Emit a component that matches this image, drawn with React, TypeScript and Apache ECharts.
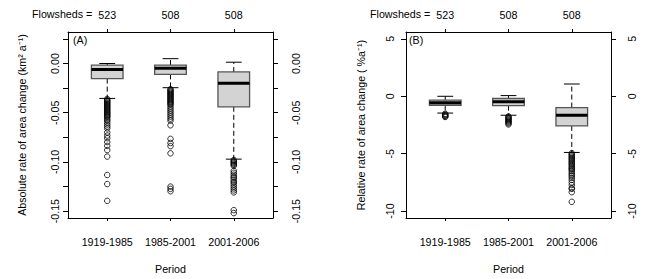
import React, { useEffect, useRef } from 'react';
import * as echarts from 'echarts';

const categories = ['1919-1985', '1985-2001', '2001-2006'];
const flowsheds = [523, 508, 508];

// [lower whisker, Q1, median, Q3, upper whisker]
const absStats = [
  [-0.0355, -0.0154, -0.0062, -0.0017, 0.0],
  [-0.0246, -0.0111, -0.0049, -0.0017, 0.0049],
  [-0.0972, -0.044, -0.02, -0.0086, 0.0013],
];
const absOutliers1919 = [
  -0.036, -0.037, -0.038, -0.039, -0.04, -0.041, -0.042, -0.043, -0.044, -0.045, -0.046, -0.047,
  -0.048, -0.049, -0.05, -0.051, -0.052, -0.053, -0.054, -0.055, -0.057, -0.058, -0.06, -0.062,
  -0.064, -0.066, -0.07, -0.0732, -0.0759, -0.0798, -0.0837, -0.088, -0.0946, -0.1133, -0.1225, -0.1396,
];
const absOutliers1985 = [
  -0.026, -0.027, -0.028, -0.029, -0.03, -0.031, -0.032, -0.033, -0.034, -0.035, -0.036, -0.037,
  -0.038, -0.039, -0.04, -0.041, -0.042, -0.044, -0.046, -0.048, -0.05, -0.052, -0.054, -0.056,
  -0.058, -0.0628, -0.0766, -0.0808, -0.084, -0.0913, -0.1251, -0.1274, -0.1298,
];
const absOutliers2001 = [
  -0.098, -0.099, -0.1, -0.101, -0.102, -0.103, -0.104, -0.109, -0.111, -0.113, -0.115, -0.116,
  -0.118, -0.12, -0.121, -0.123, -0.125, -0.127, -0.129, -0.131, -0.149, -0.152,
];

const relStats = [
  [-1.46, -0.78, -0.56, -0.34, 0.0],
  [-1.65, -0.81, -0.47, -0.19, 0.06],
  [-4.89, -2.58, -1.65, -0.98, 1.07],
];
const relOutliers1919 = [-1.52, -1.58, -1.64, -1.7, -1.76, -1.8];
const relOutliers1985 = [-1.75, -1.82, -1.9, -1.98, -2.05, -2.12, -2.2, -2.28, -2.36, -2.45];
const relOutliers2001 = [
  -4.95, -5.05, -5.15, -5.25, -5.35, -5.45, -5.55, -5.65, -5.76, -5.86, -5.96, -6.08, -6.19,
  -6.3, -6.38, -6.5, -6.66, -6.8, -6.94, -7.1, -7.28, -7.5, -7.73, -8.0, -8.06, -8.35, -9.19,
];

const absTickValues = [-0.15, -0.125, -0.1, -0.075, -0.05, -0.025, 0, 0.025];
const absLabelValues = [-0.15, -0.1, -0.05, 0];
const relTickValues = [-10, -5, 0, 5];
const relLabelValues = [-10, -5, 0, 5];
const catPositions = [1, 2, 3];

const FONT = 'Liberation Sans, Arial, sans-serif';
const FS = 10.7;

function boxRender(params: any, api: any) {
  const x = api.value(0);
  const low = api.value(1);
  const q1 = api.value(2);
  const med = api.value(3);
  const q3 = api.value(4);
  const high = api.value(5);
  const hw = 0.25;
  const cw = 0.125;
  const tl = api.coord([x - hw, q3]);
  const br = api.coord([x + hw, q1]);
  const c = (xx: number, yy: number) => api.coord([xx, yy]);
  const line = (a: number[], b: number[], style: any) => ({
    type: 'line',
    shape: { x1: a[0], y1: a[1], x2: b[0], y2: b[1] },
    style,
  });
  const dashed = { stroke: '#000', lineWidth: 1, lineDash: [5, 3] };
  const solid = { stroke: '#000', lineWidth: 1 };
  return {
    type: 'group',
    children: [
      line(c(x, q3), c(x, high), dashed),
      line(c(x, q1), c(x, low), dashed),
      line(c(x - cw, high), c(x + cw, high), solid),
      line(c(x - cw, low), c(x + cw, low), solid),
      {
        type: 'rect',
        shape: { x: tl[0], y: tl[1], width: br[0] - tl[0], height: br[1] - tl[1] },
        style: { fill: '#d3d3d3', stroke: '#555', lineWidth: 1.3 },
      },
      line(c(x - hw, med), c(x + hw, med), { stroke: '#000', lineWidth: 3 }),
    ],
  };
}

export default function App() {
  const ref = useRef<HTMLDivElement>(null);
  useEffect(() => {
    if (!ref.current) return;
    const chart = echarts.init(ref.current, null, { renderer: 'svg' });
    const text = { fontFamily: FONT, fontSize: FS, color: '#000' };
    const axisLine = { show: true, onZero: false, lineStyle: { color: '#000', width: 1 } };

    const xBottom = (gridIndex: number) => ({
      type: 'value',
      gridIndex,
      position: 'bottom',
      min: 0.38,
      max: 3.62,
      axisLine,
      splitLine: { show: false },
      axisTick: { show: true, length: 3, customValues: catPositions, lineStyle: { color: '#000' } },
      axisLabel: {
        show: true,
        customValues: catPositions,
        margin: 18,
        ...text,
        formatter: (v: number) => categories[Math.round(v) - 1] ?? '',
      },
      name: 'Period',
      nameLocation: 'middle',
      nameGap: 45,
      nameTextStyle: text,
    });
    const xTop = (gridIndex: number) => ({
      type: 'value',
      gridIndex,
      position: 'top',
      min: 0.38,
      max: 3.62,
      axisLine,
      splitLine: { show: false },
      axisTick: { show: true, length: 3, customValues: catPositions, lineStyle: { color: '#000' } },
      axisLabel: {
        show: true,
        customValues: catPositions,
        margin: 12,
        ...text,
        formatter: (v: number) => String(flowsheds[Math.round(v) - 1] ?? ''),
      },
    });
    const yAxis = (
      gridIndex: number,
      position: string,
      min: number,
      max: number,
      ticks: number[],
      labels: number[],
      margin: number,
      fmt: (v: number) => string,
      name?: string,
      nameGap?: number
    ) => ({
      type: 'value',
      gridIndex,
      position,
      min,
      max,
      axisLine,
      splitLine: { show: false },
      axisTick: { show: true, length: 5, customValues: ticks, lineStyle: { color: '#000' } },
      axisLabel: { show: true, customValues: labels, rotate: 90, margin, ...text, formatter: fmt },
      name: name ?? '',
      nameLocation: 'middle',
      nameGap: nameGap ?? 0,
      nameMoveOverlap: false,
      nameTextStyle: text,
    });

    const absFmt = (v: number) => v.toFixed(2);
    const relFmt = (v: number) => String(Math.round(v));

    const toPoints = (groups: number[][]) =>
      groups.flatMap((arr, i) => arr.map((v) => [i + 1, v]));

    const scatterStyle = {
      type: 'scatter',
      symbol: 'circle',
      symbolSize: 5.5,
      itemStyle: { color: 'rgba(0,0,0,0)', borderColor: '#000', borderWidth: 1 },
      silent: true,
    };

    chart.setOption({
      animation: false,
      backgroundColor: '#fff',
      grid: [
        { left: 68, top: 32, width: 205, height: 191 },
        { left: 406, top: 32, width: 205, height: 191 },
      ],
      xAxis: [xBottom(0), xTop(0), xBottom(1), xTop(1)],
      yAxis: [
        yAxis(0, 'left', -0.157, 0.032, absTickValues, absLabelValues, 8, absFmt,
          'Absolute rate of area change (km² a⁻¹)', 41),
        yAxis(0, 'right', -0.157, 0.032, absTickValues, absLabelValues, 17, absFmt),
        yAxis(1, 'left', -10.6, 5.6, relTickValues, relLabelValues, 11, relFmt,
          'Relative rate of area change ( %a⁻¹)', 40),
        yAxis(1, 'right', -10.6, 5.6, relTickValues, relLabelValues, 15, relFmt),
      ],
      series: [
        {
          type: 'custom',
          xAxisIndex: 0,
          yAxisIndex: 0,
          renderItem: boxRender,
          encode: { x: 0, y: [1, 2, 3, 4, 5] },
          data: absStats.map((s, i) => [i + 1, ...s]),
        },
        {
          ...scatterStyle,
          xAxisIndex: 0,
          yAxisIndex: 0,
          data: toPoints([absOutliers1919, absOutliers1985, absOutliers2001]),
        },
        {
          type: 'custom',
          xAxisIndex: 2,
          yAxisIndex: 2,
          renderItem: boxRender,
          encode: { x: 0, y: [1, 2, 3, 4, 5] },
          data: relStats.map((s, i) => [i + 1, ...s]),
        },
        {
          ...scatterStyle,
          xAxisIndex: 2,
          yAxisIndex: 2,
          data: toPoints([relOutliers1919, relOutliers1985, relOutliers2001]),
        },
      ],
      graphic: [
        { type: 'text', left: 32, top: 8, style: { text: 'Flowsheds =', font: `${FS}px ${FONT}`, fill: '#000' } },
        { type: 'text', left: 370, top: 8, style: { text: 'Flowsheds =', font: `${FS}px ${FONT}`, fill: '#000' } },
        { type: 'text', left: 73, top: 34, style: { text: '(A)', font: `${FS}px ${FONT}`, fill: '#000' } },
        { type: 'text', left: 409, top: 34, style: { text: '(B)', font: `${FS}px ${FONT}`, fill: '#000' } },
      ],
    });
    return () => chart.dispose();
  }, []);
  return (
    <div
      ref={ref}
      style={{ position: 'absolute', left: 0, top: 0, width: 649, height: 279, background: '#fff' }}
    />
  );
}
